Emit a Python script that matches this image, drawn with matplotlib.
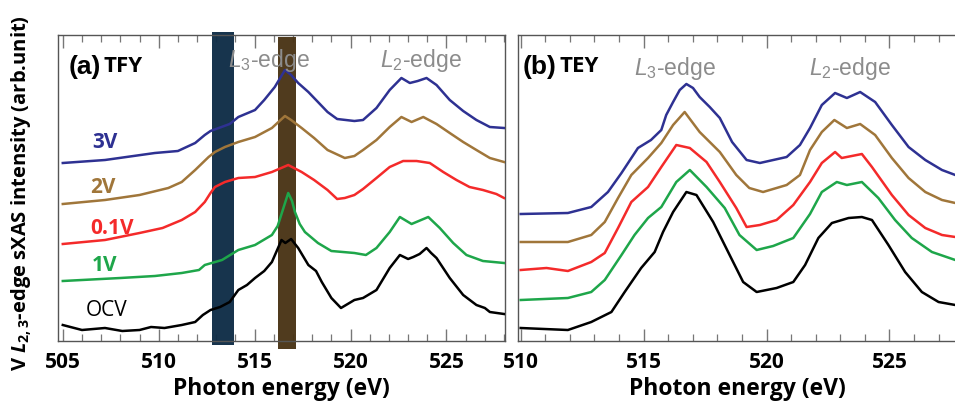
import matplotlib
matplotlib.use("Agg")
import matplotlib.pyplot as plt
from matplotlib.ticker import MultipleLocator

plt.rcParams['mathtext.fontset'] = 'custom'
plt.rcParams['mathtext.rm'] = 'Liberation Sans'
plt.rcParams['mathtext.it'] = 'Liberation Sans:italic'
plt.rcParams['mathtext.bf'] = 'Open Sans:bold'
plt.rcParams['mathtext.bfit'] = 'Open Sans:bold:italic'

# ---------------- data: (a) TFY ----------------
tfy_3v_e = [505, 507.2, 509.8, 511, 511.9, 512.4, 512.7, 513.7, 514.15, 515.02, 515.5, 516.05, 516.3, 516.58,
            516.9, 517.27, 517.8, 518.3, 518.8, 519.3, 520.2, 520.65, 521.35, 522.04, 522.65, 523.09,
            523.5, 523.96, 524.48, 525.17, 525.87, 526.56, 527.26, 528]
tfy_3v_i = [178, 181, 188, 190, 198, 206, 210, 217, 224, 231, 241, 254, 262, 271,
            266, 258, 249, 239, 229, 222, 220, 221, 233, 251, 263, 258,
            260, 263, 256, 241, 230, 221, 214, 213]

tfy_2v_e = [505, 507.2, 509, 510.5, 511.2, 511.9, 512.6, 512.93, 513.45, 514.15, 515.02, 515.9, 516.58,
            516.9, 517.45, 518.1, 518.8, 519.7, 520.2, 520.65, 521.35, 522.04, 522.65, 523.18, 523.79,
            524.48, 525.17, 525.87, 526.56, 527.26, 528]
tfy_2v_i = [137, 141, 146, 153, 159, 171, 184, 189, 194, 199, 204, 213, 225,
            221, 213, 203, 191, 183, 185, 191, 201, 214, 224, 219, 224,
            217, 208, 199, 191, 183, 179]

tfy_01v_e = [505, 507.2, 509, 510.2, 511.2, 511.9, 512.4, 512.7, 512.93, 513.45, 514.15, 515.02, 515.9,
             516.75, 517.45, 518.1, 518.8, 519.3, 519.7, 520.2, 520.65, 521.35, 522.04, 522.74, 523.44,
             524.13, 524.83, 525.52, 526.2, 526.9, 527.6, 528]
tfy_01v_i = [97, 101, 108, 113, 121, 129, 139, 148, 154, 159, 163, 164, 169,
             176, 169, 161, 151, 142, 143, 146, 152, 163, 174, 180, 180,
             178, 169, 161, 154, 151, 147, 143]

tfy_1v_e = [505, 508, 509.8, 511.2, 512.1, 512.4, 513.3, 514.15, 515.02, 515.9, 516.2, 516.45, 516.75,
            516.95, 517.1, 517.35, 517.62, 518.3, 519, 520.2, 520.8, 521.35, 522.04, 522.57, 523.18,
            524.05, 524.65, 525.35, 526.04, 526.9, 528]
tfy_1v_i = [60, 63, 65, 68, 71, 76, 81, 91, 96, 106, 115, 130, 148,
            140, 129, 117, 109, 98, 90, 88, 86, 93, 109, 124, 117,
            124, 113, 98, 86, 80, 78]

tfy_ocv_e = [505, 506, 507.2, 508.1, 509, 509.6, 510.3, 511.2, 511.9, 512.3, 512.7, 513.2, 513.7, 514.15,
             514.6, 515.02, 515.5, 515.9, 516.4, 516.6, 516.9, 517.27, 517.8, 518.2, 518.5, 519, 519.5,
             520.2, 520.65, 521.35, 522.04, 522.57, 523.0, 523.27, 523.6, 523.96, 524.2, 524.48, 525.17,
             525.87, 526.56, 527.0, 527.26, 528]
tfy_ocv_i = [16, 11, 13, 10, 11, 14, 13, 16, 19, 26, 31, 34, 39, 51,
             56, 63, 70, 79, 101, 98, 102, 93, 76, 70, 59, 43, 33,
             41, 43, 51, 73, 86, 82, 84, 87, 93, 88, 83, 63,
             46, 36, 33, 29, 27]

# ---------------- data: (b) TEY ----------------
tey_3v_e = [510.0, 511.92, 512.87, 513.55, 514.1, 514.77, 515.3, 515.72, 515.92, 516.2, 516.47, 516.74,
            517.01, 517.28, 517.69, 518.1, 518.6, 519.19, 519.73, 520.82, 521.36, 521.77, 522.25, 522.79,
            523.27, 523.81, 524.42, 525.1, 525.78, 526.46, 527.14, 527.68]
tey_3v_i = [127, 128, 134, 149, 168, 193, 201, 211, 226, 239, 251, 257,
            253, 244, 234, 223, 199, 181, 178, 184, 196, 213, 236, 248,
            243, 249, 239, 216, 194, 181, 171, 166]

tey_2v_e = [510.0, 511.92, 512.87, 513.42, 513.96, 514.5, 515.18, 515.72, 516.2, 516.67, 517.28, 518.1,
            518.77, 519.3, 519.86, 520.82, 521.36, 521.77, 522.25, 522.76, 523.27, 523.81, 524.42, 525.1,
            525.78, 526.46, 527.14, 527.68]
tey_2v_i = [99, 99, 106, 119, 143, 166, 183, 198, 216, 229, 209, 189,
            166, 153, 149, 156, 166, 191, 209, 221, 213, 217, 206, 183,
            163, 149, 141, 138]

tey_01v_e = [510.0, 511.05, 511.92, 512.87, 513.42, 513.96, 514.5, 515.18, 515.72, 516.33, 516.88, 517.56,
             518.1, 518.77, 519.19, 519.73, 520.41, 521.09, 521.77, 522.25, 522.79, 523.06, 523.88, 524.29,
             525.1, 525.78, 526.46, 527.14, 527.68]
tey_01v_i = [71, 73, 70, 79, 88, 113, 139, 154, 174, 196, 193, 179,
             159, 133, 114, 116, 121, 136, 159, 178, 189, 183, 187, 174,
             146, 126, 113, 106, 104]

tey_1v_e = [510.0, 511.92, 512.87, 513.42, 514.1, 514.63, 515.18, 515.72, 516.33, 516.88, 517.56, 518.3,
            518.9, 519.6, 520.27, 521.09, 521.77, 522.25, 522.86, 523.27, 523.88, 524.55, 525.23, 525.91,
            526.73, 527.68]
tey_1v_i = [41, 43, 49, 61, 86, 106, 123, 134, 159, 171, 154, 133,
            106, 91, 95, 103, 127, 149, 159, 156, 159, 143, 121, 103,
            89, 81]

tey_ocv_e = [510.0, 511.92, 512.87, 513.69, 514.23, 514.9, 515.45, 515.79, 516.2, 516.74, 517.15, 517.83,
             518.5, 519.05, 519.6, 520.41, 521.09, 521.57, 522.11, 522.66, 523.34, 523.88, 524.29, 524.96,
             525.64, 526.32, 527.0, 527.68]
tey_ocv_i = [13, 11, 19, 29, 49, 73, 89, 109, 129, 149, 146, 119,
             86, 59, 49, 53, 59, 76, 103, 118, 123, 124, 121, 96,
             69, 49, 39, 36]

series_names = ['3V', '2V', '0.1V', '1V', 'OCV']
series_colors = ['#2e3192', '#a0763a', '#f42a2a', '#1ea64a', '#000000']
tfy_data = [(tfy_3v_e, tfy_3v_i), (tfy_2v_e, tfy_2v_i), (tfy_01v_e, tfy_01v_i),
            (tfy_1v_e, tfy_1v_i), (tfy_ocv_e, tfy_ocv_i)]
tey_data = [(tey_3v_e, tey_3v_i), (tey_2v_e, tey_2v_i), (tey_01v_e, tey_01v_i),
            (tey_1v_e, tey_1v_i), (tey_ocv_e, tey_ocv_i)]

band_blue = (512.8, 513.9)
band_brown = (516.2, 517.15)

W, H = 955, 406
fig = plt.figure(figsize=(W / 100, H / 100), dpi=100)

def px_ax(l, t, r, b):
    return fig.add_axes([l / W, 1 - b / H, (r - l) / W, (b - t) / H])

ax1 = px_ax(58, 36, 505, 342)
ax2 = px_ax(518, 36, 957, 342)

BOLD = dict(family='Open Sans', weight='bold')
spine_col = '#555555'

for ax, data, xl, xt in [(ax1, tfy_data, (504.75, 528.05), [505, 510, 515, 520, 525]),
                         (ax2, tey_data, (509.89, 527.75), [510, 515, 520, 525])]:
    for (e, i), c in zip(data, series_colors):
        ax.plot(e, i, color=c, lw=1.8, zorder=3, solid_joinstyle='round')
    ax.set_xlim(*xl)
    ax.set_ylim(0, 306)
    ax.set_yticks([])
    ax.set_xticks(xt)
    ax.xaxis.set_minor_locator(MultipleLocator(1))
    ax.tick_params(axis='x', which='both', direction='in', top=True, bottom=True,
                   color='#777777', pad=7)
    ax.tick_params(axis='x', which='major', length=9, width=1.0)
    ax.tick_params(axis='x', which='minor', length=5, width=0.9)
    for lab in ax.get_xticklabels():
        lab.set_fontfamily('Open Sans')
        lab.set_fontweight('bold')
        lab.set_fontsize(15)
    for s in ax.spines.values():
        s.set_color(spine_col)
        s.set_linewidth(1.0)
    ax.set_xlabel('Photon energy (eV)', fontsize=16.5, labelpad=3, **BOLD)

ax2.spines['right'].set_visible(False)

# shaded bands in (a)
ax1.axvspan(*band_blue, ymin=-0.012, ymax=1.01, facecolor='#0f2d47', edgecolor='none',
            alpha=0.97, zorder=2, clip_on=False)
ax1.axvspan(*band_brown, ymin=-0.027, ymax=0.995, facecolor='#4a3416', edgecolor='none',
            alpha=0.97, zorder=2, clip_on=False)

def fx(ax, px):
    x0, x1 = ax.get_xlim()
    l = ax.get_position().x0 * W
    r = ax.get_position().x1 * W
    return x0 + (px - l) / (r - l) * (x1 - x0)

def fy(py):
    return 342 - py

# panel titles
ax1.text(fx(ax1, 69), fy(67), '(a)', fontsize=19, color='black',
         family='Liberation Sans', weight='bold', va='center', ha='left', zorder=5)
ax1.text(fx(ax1, 104), fy(67), 'TFY', fontsize=16, color='black',
         va='center', ha='left', zorder=5, **BOLD)
ax2.text(fx(ax2, 523), fy(67), '(b)', fontsize=19, color='black',
         family='Liberation Sans', weight='bold', va='center', ha='left', zorder=5)
ax2.text(fx(ax2, 559), fy(67), 'TEY', fontsize=16, color='black',
         va='center', ha='left', zorder=5, **BOLD)

# edge labels
edge_col = '#8c8c8c'
edge_labels = [(ax1, 269, 60, r'$L_3$-edge'), (ax1, 421, 60, r'$L_2$-edge'),
               (ax2, 675, 68, r'$L_3$-edge'), (ax2, 850, 68, r'$L_2$-edge')]
for ax, px, py, t in edge_labels:
    ax.text(fx(ax, px), fy(py), t, fontsize=16.5, color=edge_col, ha='center', va='center',
            family='Liberation Sans', zorder=5)

# series labels in (a)
lab_pos = [(105, 143), (103, 188), (112, 229), (105, 266), (107, 311)]
for name, c, (px, py) in zip(series_names, series_colors, lab_pos):
    if name == 'OCV':
        ax1.text(fx(ax1, px), fy(py), name, color=c, fontsize=15, ha='center', va='center',
                 family='Open Sans')
    else:
        ax1.text(fx(ax1, px), fy(py), name, color=c, fontsize=15, ha='center', va='center', **BOLD)

fig.text(22 / W, 1 - 193 / H, r'V $\mathbfit{L}_{\mathbf{2,3}}$-edge sXAS intensity (arb.unit)',
         rotation=90, fontsize=14.5, ha='center', va='center', **BOLD)

fig.savefig('out.png', dpi=100)
